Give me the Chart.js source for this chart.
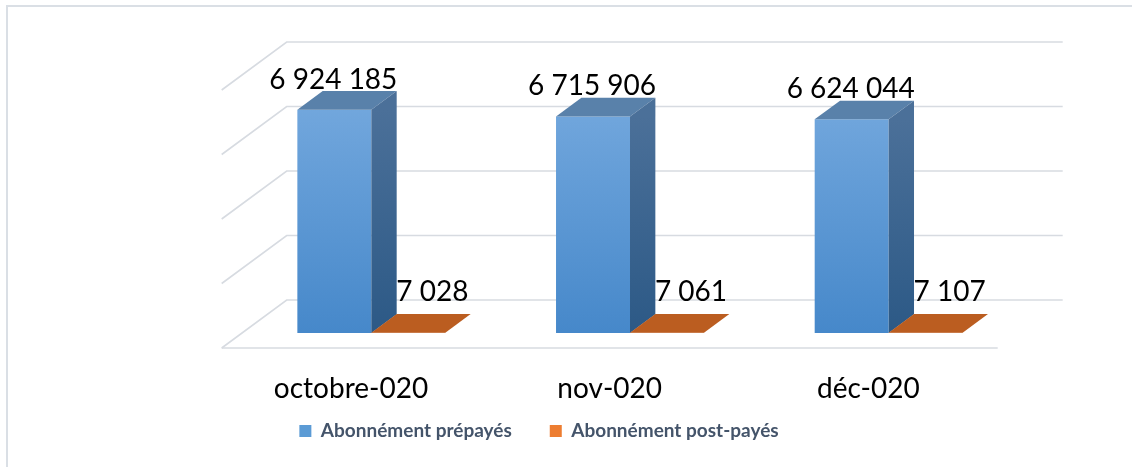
<!DOCTYPE html>
<html>
<head>
<meta charset="utf-8">
<script src="https://cdn.jsdelivr.net/npm/chart.js"></script>
<style>
  html, body { margin: 0; padding: 0; background: #fff; overflow: hidden; }
  body { width: 1132px; height: 467px; position: relative; }
  .frame { position: absolute; left: 6px; top: 5px; width: 2000px; height: 2000px;
           border-left: 2px solid #DADFE5; border-top: 2px solid #DADFE5; }
  .box { position: absolute; left: 7px; top: 6px; width: 1064px; height: 461px; }
</style>
</head>
<body>
<div class="frame"></div>
<div class="box"><canvas id="chart"></canvas></div>
<script>
// data
const months = ['octobre-020', 'nov-020', 'déc-020'];
const prepaid = [6924185, 6715906, 6624044];
const postpaid = [7028, 7061, 7107];
const seriesNames = ['Abonnément prépayés', 'Abonnément post-payés'];
const yTicks = [0, 2000000, 4000000, 6000000, 8000000];

// 3d look: floor depth (front -> back) and where the bars stand in it
const FLOOR = { dx: 65, dy: -48 };
const BAR_PLANE = 0.3125;
const BAR_DEPTH = 0.39;
const GRID_COLOR = '#D7DBE1';

const legendColors = ['#5B9BD5', '#ED7D31'];
const topColors = ['#5981AA', '#BB5D20'];
const sideColors = [['#4B7099', '#2C5986'], ['#A54F18', '#A54F18']];
const labelShift = [{ dx: -1, dy: -21 }, { dx: 24, dy: -32 }];

const fmt = v => String(v).replace(/\B(?=(\d{3})+(?!\d))/g, ' ');

function blueFront(c) {
  const area = c.chart.chartArea;
  if (!area) return legendColors[0];
  const g = c.chart.ctx.createLinearGradient(0, area.top + 30, 0, area.bottom);
  g.addColorStop(0, '#72A7DD');
  g.addColorStop(1, '#4688CA');
  return g;
}

const poly = (ctx, pts, fill) => {
  ctx.beginPath();
  ctx.moveTo(pts[0][0], pts[0][1]);
  pts.slice(1).forEach(p => ctx.lineTo(p[0], p[1]));
  ctx.closePath();
  ctx.fillStyle = fill;
  ctx.fill();
};

const depth3d = {
  id: 'depth3d',
  beforeDatasetsDraw(chart) {
    const { ctx, chartArea: a, scales: { y } } = chart;
    const bx = FLOOR.dx * (1 - BAR_PLANE), by = FLOOR.dy * (1 - BAR_PLANE);
    const fx = -FLOOR.dx * BAR_PLANE, fy = -FLOOR.dy * BAR_PLANE;
    ctx.save();
    ctx.strokeStyle = GRID_COLOR;
    ctx.lineWidth = 1.6;
    yTicks.forEach(v => {
      const py = y.getPixelForValue(v);
      ctx.beginPath();
      ctx.moveTo(a.right + bx, py + by);
      ctx.lineTo(a.left + bx, py + by);
      ctx.lineTo(a.left + fx, py + by - FLOOR.dy);
      ctx.stroke();
    });
    // front edge of the floor
    const py0 = y.getPixelForValue(0);
    ctx.beginPath();
    ctx.moveTo(a.left + fx, py0 + fy);
    ctx.lineTo(a.right + fx, py0 + fy);
    ctx.stroke();
    ctx.restore();
  },
  afterDatasetsDraw(chart) {
    const { ctx } = chart;
    const dx = FLOOR.dx * BAR_DEPTH, dy = FLOOR.dy * BAR_DEPTH;
    ctx.save();
    chart.data.datasets.forEach((ds, di) => {
      chart.getDatasetMeta(di).data.forEach(bar => {
        const { x, y, base, width } = bar.getProps(['x', 'y', 'base', 'width'], true);
        const l = x - width / 2, r = x + width / 2;
        poly(ctx, [[l, y], [r, y], [r + dx, y + dy], [l + dx, y + dy]], topColors[di]);
        if (base - y > 1) {
          const g = ctx.createLinearGradient(0, y, 0, base);
          g.addColorStop(0, sideColors[di][0]);
          g.addColorStop(1, sideColors[di][1]);
          poly(ctx, [[r, y], [r + dx, y + dy], [r + dx, base + dy], [r, base]], g);
        }
      });
    });
    // value labels
    ctx.fillStyle = '#000';
    ctx.font = '28px Lato';
    ctx.textAlign = 'center';
    ctx.textBaseline = 'alphabetic';
    chart.data.datasets.forEach((ds, di) => {
      chart.getDatasetMeta(di).data.forEach((bar, i) => {
        ctx.fillText(fmt(ds.data[i]), bar.x + labelShift[di].dx, bar.y + labelShift[di].dy);
      });
    });
    // category labels sit on the front edge of the floor
    const xs = chart.scales.x, a = chart.chartArea;
    months.forEach((m, i) => {
      ctx.fillText(m, xs.getPixelForValue(i) - FLOOR.dx * BAR_PLANE, a.bottom + 65);
    });
    ctx.restore();
  }
};

new Chart(document.getElementById('chart'), {
  type: 'bar',
  data: {
    labels: months,
    datasets: [
      { label: seriesNames[0], data: prepaid, backgroundColor: blueFront },
      { label: seriesNames[1], data: postpaid, backgroundColor: '#C55A11' }
    ]
  },
  options: {
    responsive: true,
    maintainAspectRatio: false,
    animation: false,
    layout: { padding: { top: 69, bottom: 16.5, left: 0, right: 0 } },
    datasets: { bar: { categoryPercentage: 0.572, barPercentage: 1, borderWidth: 0 } },
    scales: {
      x: {
        grid: { display: false },
        border: { display: false },
        ticks: { display: false },
        afterFit: s => { s.height = 50.5; }
      },
      y: {
        min: 0,
        max: 8000000,
        ticks: { display: false, stepSize: 2000000 },
        grid: { display: false },
        border: { display: false },
        afterFit: s => { s.width = 235; }
      },
      yRight: {
        type: 'linear',
        position: 'right',
        ticks: { display: false },
        grid: { display: false },
        border: { display: false },
        afterFit: s => { s.width = 53; }
      }
    },
    plugins: {
      tooltip: { enabled: false },
      legend: {
        position: 'bottom',
        labels: {
          boxWidth: 12,
          boxHeight: 12,
          padding: 38,
          color: '#44546A',
          font: { family: 'Lato', size: 19, weight: 'bold' },
          generateLabels(chart) {
            const items = Chart.defaults.plugins.legend.labels.generateLabels(chart);
            items.forEach((it, i) => {
              it.fillStyle = legendColors[i];
              it.strokeStyle = legendColors[i];
              it.lineWidth = 0;
            });
            return items;
          }
        }
      }
    }
  },
  plugins: [depth3d]
});
</script>
</body>
</html>
